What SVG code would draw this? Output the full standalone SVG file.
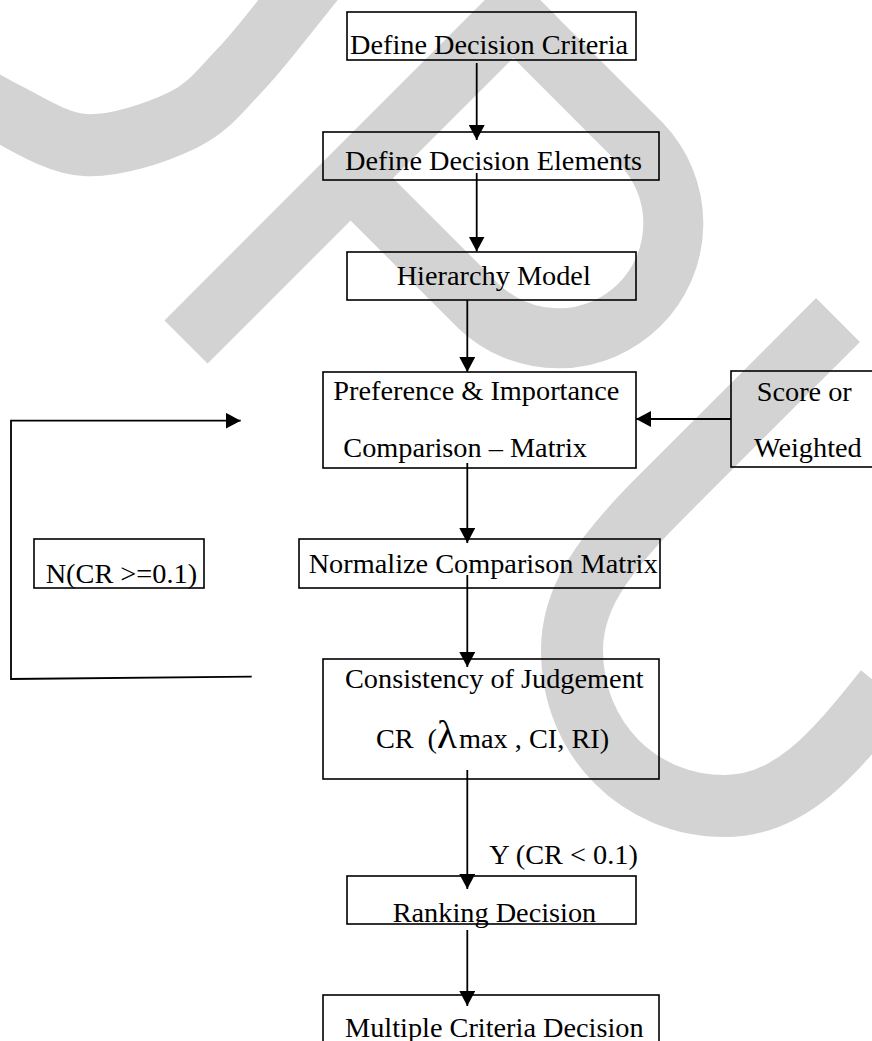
<svg xmlns="http://www.w3.org/2000/svg" width="872" height="1041" viewBox="0 0 872 1041">
  <style>
    .wm { fill: none; stroke: #d3d3d3; stroke-linecap: butt; }
    .box { fill: none; stroke: #000; stroke-width: 1.6; }
    .lbl { font-family: "Liberation Serif", "Times New Roman", serif; font-size: 28.3px; fill: #000; }
    .wire { fill: none; stroke: #000; stroke-width: 1.8; }
    .arr { marker-end: url(#head); }
  </style>
  <defs>
    <marker id="head" markerUnits="userSpaceOnUse" markerWidth="16" markerHeight="16" refX="15" refY="8" orient="auto">
      <path d="M0 0 L15 8 L0 16 Z" fill="#000"/>
    </marker>
  </defs>

  <rect width="872" height="1041" fill="#fff"/>

  <!-- background stamp strokes -->
  <g id="stamp">
    <path class="wm" stroke-width="62" d="M-40 88 L0 110 C20.8 119.5 54.5 143.3 85 145 C115.5 146.7 157.2 132.5 183 120 C208.8 107.5 220.8 90 240 70 C259.2 50 283 18.3 298 0 L330 -40"/>
    <path class="wm" stroke-width="61" d="M186 342 L534 -6"/>
    <path class="wm" stroke-width="60" d="M491.8 -5.8 L641.3 143.7 A115 115 0 0 1 478.7 306.3 L350.2 177.8"/>
    <path class="wm" stroke-width="62" d="M838 320 L660 498 C600 558 572 600 572 650 C572 740 640 806 725 806 C795 806 840 745 885 690"/>
  </g>

  <!-- connectors -->
  <g id="connectors">
    <path class="wire arr" d="M476.7 63 V140"/>
    <path class="wire arr" d="M476.7 173 V251.5"/>
    <path class="wire arr" d="M467.3 300 V372"/>
    <path class="wire arr" d="M731 419 H636"/>
    <path class="wire arr" d="M467.3 463 V543"/>
    <path class="wire arr" d="M467.3 575 V667"/>
    <path class="wire arr" d="M467.3 770 V889"/>
    <path class="wire arr" d="M467.3 930 V1006"/>
    <path class="wire arr" d="M251.7 676.7 L11 679 L11 420.7 L240.7 420.7"/>
    <text class="lbl" x="489.3" y="864">Y (CR &lt; 0.1)</text>
  </g>

  <g id="define-criteria">
    <rect class="box" x="347" y="12" width="289" height="48"/>
    <text class="lbl" x="350" y="54.3">Define Decision Criteria</text>
  </g>

  <g id="define-elements">
    <rect class="box" x="323" y="132" width="336" height="48"/>
    <text class="lbl" x="345" y="170">Define Decision Elements</text>
  </g>

  <g id="hierarchy-model">
    <rect class="box" x="347" y="252" width="289" height="48"/>
    <text class="lbl" x="396.7" y="285">Hierarchy Model</text>
  </g>

  <g id="comparison-matrix">
    <rect class="box" x="323" y="372" width="313" height="96"/>
    <text class="lbl" x="333.3" y="400">Preference &amp; Importance</text>
    <text class="lbl" x="343.3" y="457.3">Comparison – Matrix</text>
  </g>

  <g id="score-weighted">
    <rect class="box" x="731" y="371" width="150" height="96"/>
    <text class="lbl" x="756.7" y="401">Score or</text>
    <text class="lbl" x="754" y="457.3">Weighted</text>
  </g>

  <g id="normalize">
    <rect class="box" x="299" y="539" width="361" height="49"/>
    <text class="lbl" x="308.7" y="573.3">Normalize Comparison Matrix</text>
  </g>

  <g id="no-branch">
    <rect class="box" x="34" y="539" width="170" height="49"/>
    <text class="lbl" x="45.7" y="583.3">N(CR &gt;=0.1)</text>
  </g>

  <g id="consistency">
    <rect class="box" x="323" y="659" width="336" height="120"/>
    <text class="lbl" x="345" y="688.3">Consistency of Judgement</text>
    <text class="lbl" y="748.3"><tspan x="376">CR</tspan><tspan x="427.5">(</tspan><tspan x="437" font-size="41">λ</tspan><tspan x="459">max , CI, RI)</tspan></text>
  </g>

  <g id="ranking">
    <rect class="box" x="347" y="876" width="289" height="48"/>
    <text class="lbl" x="392.7" y="921.7">Ranking Decision</text>
  </g>

  <g id="mcdm">
    <rect class="box" x="323" y="995" width="336" height="100"/>
    <text class="lbl" x="345" y="1037">Multiple Criteria Decision</text>
  </g>
</svg>
